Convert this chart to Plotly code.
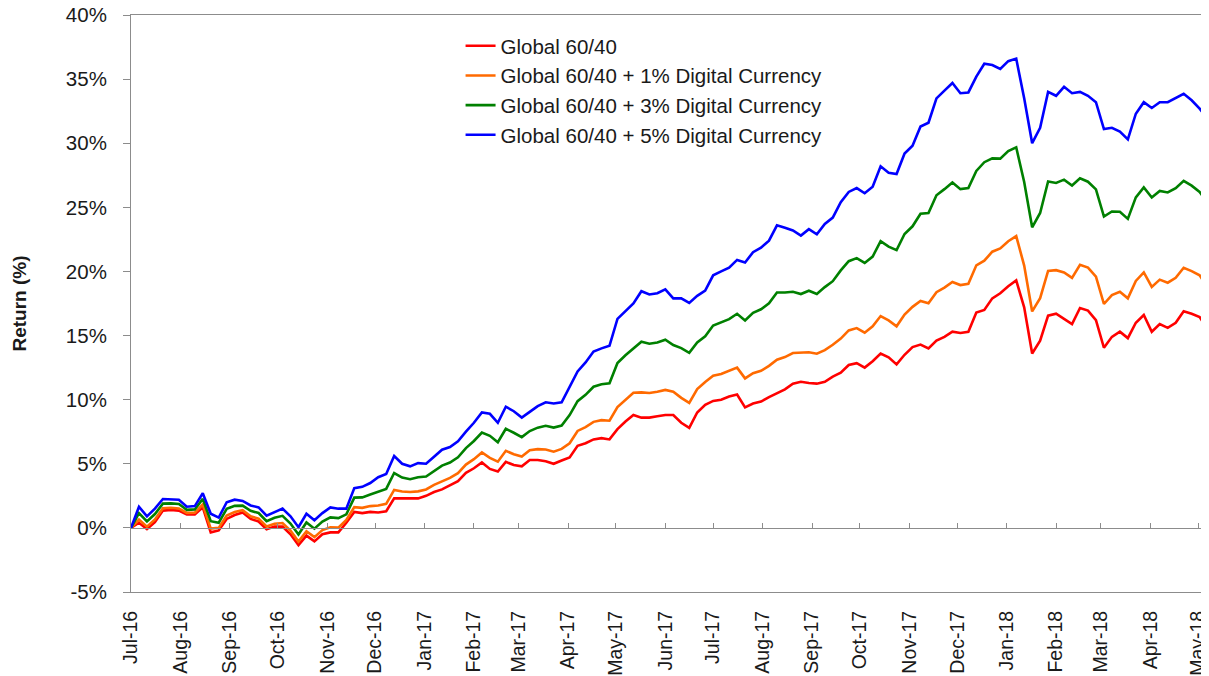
import pandas as pd
import plotly.graph_objects as go

# ---- data (returns in %, sampled every 5 calendar days from 1 Jul 2016) ----
start_date = "2016-07-01"
sample_step = "5D"

global_6040 = [
    0.0, 0.4, -0.1, 0.45, 1.35, 1.4, 1.35, 1.05, 1.05, 1.6,
    -0.35, -0.2, 0.7, 1.0, 1.2, 0.7, 0.5, -0.1, 0.1, 0.1,
    -0.5, -1.35, -0.6, -1.05, -0.5, -0.35, -0.35, 0.4, 1.25, 1.15,
    1.25, 1.2, 1.3, 2.3, 2.3, 2.3, 2.3, 2.5, 2.8, 3.0,
    3.3, 3.65, 4.3, 4.65, 5.1, 4.6, 4.4, 5.15, 4.9, 4.8,
    5.3, 5.3, 5.2, 5.0, 5.25, 5.5, 6.4, 6.6, 6.9, 7.0,
    6.9, 7.7, 8.3, 8.8, 8.6, 8.6, 8.7, 8.8, 8.8, 8.2,
    7.8, 9.0, 9.6, 9.9, 10.0, 10.25, 10.4, 9.4, 9.7, 9.85,
    10.2, 10.5, 10.8, 11.25, 11.4, 11.3, 11.25, 11.4, 11.8, 12.1,
    12.7, 12.85, 12.5, 13.0, 13.6, 13.3, 12.75, 13.5, 14.1, 14.3,
    14.0, 14.6, 14.9, 15.3, 15.2, 15.3, 16.8, 17.0, 17.9, 18.3,
    18.85, 19.3, 17.2, 13.6, 14.6, 16.55, 16.7, 16.3, 15.9, 17.15,
    16.95, 16.2, 14.05, 14.9, 15.3, 14.8, 16.0, 16.6, 15.3, 15.9,
    15.6, 16.0, 16.9, 16.7, 16.45, 15.5,
]

plus_1pct = [
    0.0, 0.65, 0.1, 0.66, 1.53, 1.57, 1.52, 1.17, 1.18, 1.82,
    -0.06, 0.0, 0.96, 1.24, 1.38, 0.91, 0.72, 0.11, 0.33, 0.38,
    -0.22, -1.07, -0.26, -0.72, -0.17, 0.04, 0.02, 0.62, 1.62, 1.56,
    1.7, 1.75, 1.88, 2.96, 2.84, 2.8, 2.85, 3.0, 3.35, 3.62,
    3.9, 4.27, 4.94, 5.36, 5.88, 5.46, 5.16, 6.01, 5.74, 5.56,
    6.05, 6.14, 6.12, 5.94, 6.16, 6.6, 7.56, 7.86, 8.27, 8.4,
    8.36, 9.42, 10.02, 10.54, 10.57, 10.52, 10.62, 10.76, 10.62, 10.14,
    9.75, 10.82, 11.38, 11.86, 12.0, 12.26, 12.5, 11.66, 12.06, 12.25,
    12.64, 13.12, 13.32, 13.64, 13.68, 13.7, 13.58, 13.86, 14.28, 14.76,
    15.4, 15.58, 15.22, 15.72, 16.52, 16.18, 15.72, 16.64, 17.24, 17.7,
    17.52, 18.38, 18.74, 19.18, 18.94, 19.03, 20.48, 20.84, 21.54, 21.8,
    22.36, 22.76, 20.46, 16.88, 17.92, 20.04, 20.1, 19.92, 19.5, 20.52,
    20.3, 19.6, 17.46, 18.16, 18.42, 17.9, 19.26, 19.92, 18.79, 19.36,
    19.12, 19.5, 20.29, 20.03, 19.7, 18.78,
]

plus_3pct = [
    0.0, 1.15, 0.5, 1.08, 1.89, 1.91, 1.86, 1.41, 1.44, 2.26,
    0.52, 0.4, 1.48, 1.72, 1.74, 1.33, 1.16, 0.53, 0.79, 0.94,
    0.34, -0.51, 0.42, -0.06, 0.49, 0.82, 0.76, 1.06, 2.36, 2.38,
    2.6, 2.85, 3.04, 4.28, 3.92, 3.8, 3.95, 4.0, 4.45, 4.86,
    5.1, 5.51, 6.22, 6.78, 7.44, 7.18, 6.68, 7.73, 7.42, 7.08,
    7.55, 7.82, 7.96, 7.82, 7.98, 8.8, 9.88, 10.38, 11.01, 11.2,
    11.28, 12.86, 13.46, 14.02, 14.52, 14.36, 14.46, 14.68, 14.26, 14.02,
    13.65, 14.46, 14.94, 15.78, 16.0, 16.28, 16.7, 16.18, 16.78, 17.05,
    17.52, 18.36, 18.36, 18.42, 18.24, 18.5, 18.24, 18.78, 19.24, 20.08,
    20.8, 21.04, 20.66, 21.16, 22.36, 21.94, 21.66, 22.92, 23.52, 24.5,
    24.56, 25.94, 26.42, 26.94, 26.42, 26.5, 27.84, 28.52, 28.82, 28.8,
    29.38, 29.68, 26.98, 23.44, 24.56, 27.02, 26.9, 27.16, 26.7, 27.26,
    27.0, 26.4, 24.28, 24.68, 24.66, 24.1, 25.78, 26.56, 25.77, 26.28,
    26.16, 26.5, 27.07, 26.69, 26.2, 25.34,
]

plus_5pct = [
    0.0, 1.65, 0.9, 1.5, 2.25, 2.25, 2.2, 1.65, 1.7, 2.7,
    1.1, 0.8, 2.0, 2.2, 2.1, 1.75, 1.6, 0.95, 1.25, 1.5,
    0.9, 0.05, 1.1, 0.6, 1.15, 1.6, 1.5, 1.5, 3.1, 3.2,
    3.5, 3.95, 4.2, 5.6, 5.0, 4.8, 5.05, 5.0, 5.55, 6.1,
    6.3, 6.75, 7.5, 8.2, 9.0, 8.9, 8.2, 9.45, 9.1, 8.6,
    9.05, 9.5, 9.8, 9.7, 9.8, 11.0, 12.2, 12.9, 13.75, 14.0,
    14.2, 16.3, 16.9, 17.5, 18.46, 18.2, 18.3, 18.6, 17.9, 17.9,
    17.55, 18.1, 18.5, 19.7, 20.0, 20.3, 20.9, 20.7, 21.5, 21.85,
    22.4, 23.6, 23.4, 23.2, 22.8, 23.3, 22.9, 23.7, 24.2, 25.4,
    26.2, 26.5, 26.1, 26.6, 28.2, 27.7, 27.6, 29.2, 29.8, 31.3,
    31.6, 33.5, 34.1, 34.7, 33.9, 33.96, 35.2, 36.2, 36.1, 35.8,
    36.4, 36.6, 33.5, 30.0, 31.2, 34.0, 33.7, 34.4, 33.9, 34.0,
    33.7, 33.2, 31.1, 31.2, 30.9, 30.3, 32.3, 33.2, 32.75, 33.2,
    33.2, 33.5, 33.85, 33.35, 32.7, 31.9,
]

series_names = [
    "Global 60/40",
    "Global 60/40 + 1% Digital Currency",
    "Global 60/40 + 3% Digital Currency",
    "Global 60/40 + 5% Digital Currency",
]
series_colors = ["#FF0000", "#FF6A00", "#008000", "#0000FF"]

month_ticks = [
    "2016-07-01", "2016-08-01", "2016-09-01", "2016-10-01", "2016-11-01", "2016-12-01",
    "2017-01-01", "2017-02-01", "2017-03-01", "2017-04-01", "2017-05-01", "2017-06-01",
    "2017-07-01", "2017-08-01", "2017-09-01", "2017-10-01", "2017-11-01", "2017-12-01",
    "2018-01-01", "2018-02-01", "2018-03-01", "2018-04-01", "2018-05-01",
]
month_labels = [
    "Jul-16", "Aug-16", "Sep-16", "Oct-16", "Nov-16", "Dec-16",
    "Jan-17", "Feb-17", "Mar-17", "Apr-17", "May-17", "Jun-17",
    "Jul-17", "Aug-17", "Sep-17", "Oct-17", "Nov-17", "Dec-17",
    "Jan-18", "Feb-18", "Mar-18", "Apr-18", "May-18",
]
y_ticks = [-5, 0, 5, 10, 15, 20, 25, 30, 35, 40]
y_labels = ["-5%", "0%", "5%", "10%", "15%", "20%", "25%", "30%", "35%", "40%"]

x_range = ["2016-07-01", "2018-05-07 06:00"]
y_range = [-5, 40]

# ---- figure ----
dates = pd.date_range(start_date, periods=len(global_6040), freq=sample_step)
all_series = [global_6040, plus_1pct, plus_3pct, plus_5pct]

fig = go.Figure()
for i, (name, vals, col) in enumerate(zip(series_names, all_series, series_colors)):
    fig.add_trace(go.Scatter(
        x=dates, y=vals, name=name, mode="lines",
        line=dict(color=col, width=2.6),
        legendgroup=f"g{i}",
    ))

# helper trace so the 0% axis (x2) is registered
fig.add_trace(go.Scatter(x=[], y=[], xaxis="x2", showlegend=False, hoverinfo="skip"))

axis_grey = "#8C8C8C"
text_col = "#1A1A1A"

# the page body has an 8px default margin, so the figure is sized to fit inside it
fig.update_layout(
    width=1201, height=668,
    margin=dict(l=123, r=1, t=7, b=84, autoexpand=False),
    paper_bgcolor="white", plot_bgcolor="white",
    font=dict(family="Liberation Sans, Arial, sans-serif", size=20, color=text_col),
    showlegend=True,
    legend=dict(
        x=0.306, y=0.981, xanchor="left", yanchor="top",
        bgcolor="rgba(0,0,0,0)", borderwidth=0,
        font=dict(size=20.5, color=text_col),
        traceorder="grouped", tracegroupgap=0,
    ),
    xaxis=dict(
        type="date", range=x_range, automargin=False,
        tickvals=month_ticks, ticktext=month_labels,
        tickangle=-90, ticks="", ticklabelstandoff=10,
        ticklabeloverflow="allow",
        tickfont=dict(size=19.5, color=text_col),
        showgrid=False, zeroline=False,
        showline=True, linecolor=axis_grey, linewidth=1, mirror=True,
    ),
    xaxis2=dict(
        type="date", range=x_range, overlaying="x", anchor="free", automargin=False,
        position=(0 - y_range[0]) / (y_range[1] - y_range[0]), side="bottom",
        tickvals=month_ticks, showticklabels=False,
        ticks="inside", ticklen=5, tickcolor=axis_grey, tickwidth=1,
        showgrid=False, zeroline=False,
        showline=True, linecolor=axis_grey, linewidth=1,
    ),
    yaxis=dict(
        range=y_range, tickvals=y_ticks, ticktext=y_labels, automargin=False,
        ticks="outside", ticklen=7, tickcolor=axis_grey, tickwidth=1,
        ticklabelstandoff=12, ticklabeloverflow="allow",
        tickfont=dict(size=20.5, color=text_col),
        showgrid=False, zeroline=False,
        showline=True, linecolor=axis_grey, linewidth=1,
    ),
    annotations=[dict(
        text="<b>Return (%)</b>", textangle=-90,
        xref="paper", yref="paper", x=0, y=0.5,
        xanchor="center", yanchor="middle", xshift=-112,
        showarrow=False, font=dict(size=19, color=text_col),
    )],
)

fig.write_html("out.html")
